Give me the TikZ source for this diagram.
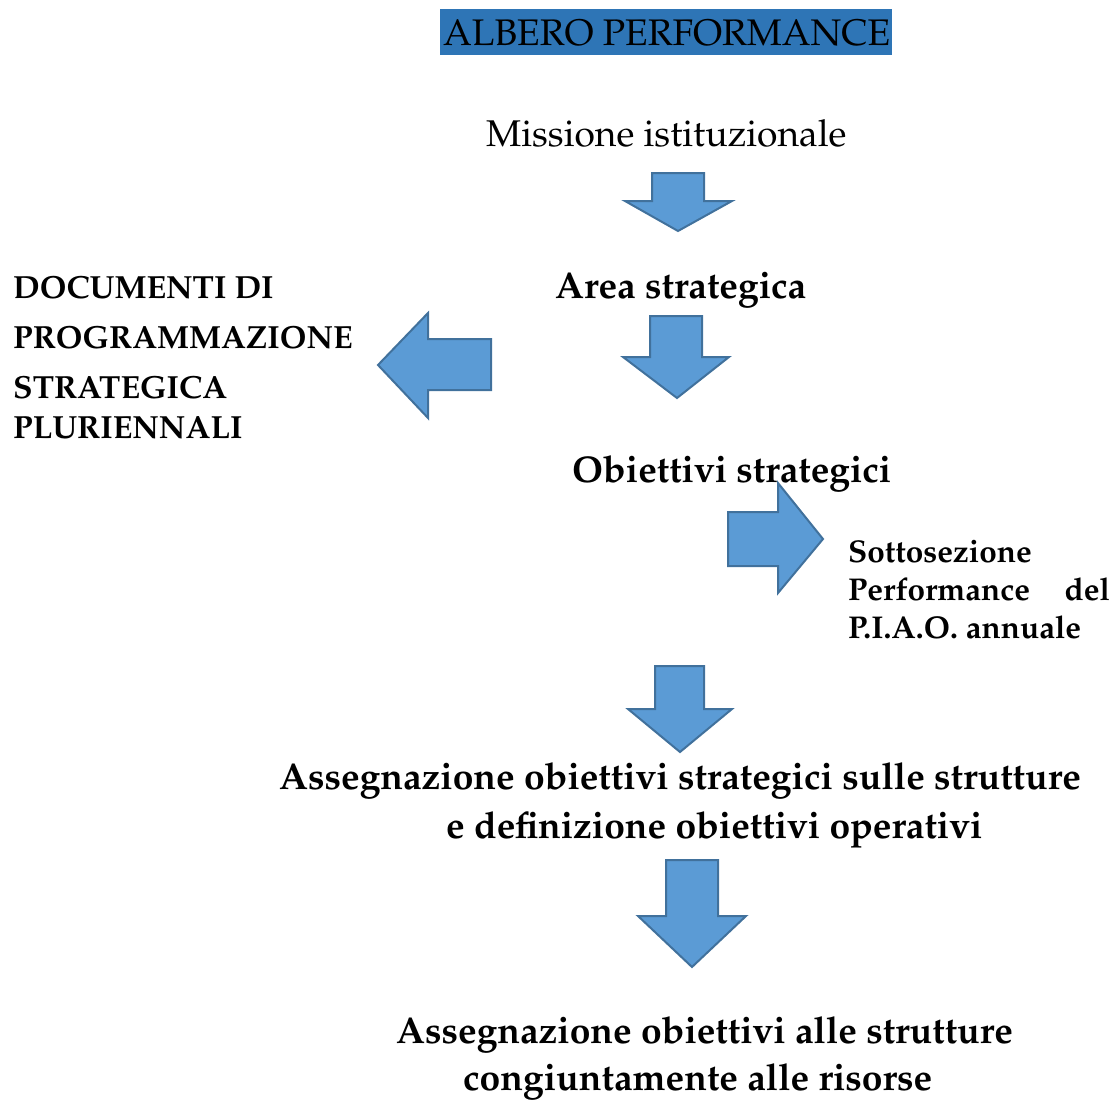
\documentclass[tikz,border=0pt]{standalone}
\usepackage[T1]{fontenc}
\usepackage{mathpazo}
\begin{document}
\definecolor{arrfill}{HTML}{5B9BD5}
\definecolor{arrdraw}{HTML}{41719C}
\definecolor{titlebg}{HTML}{2E75B6}
\tikzset{
  bigarrow/.style={fill=arrfill,draw=arrdraw,line width=2pt,line join=miter},
  lbl/.style={inner sep=0pt,anchor=base west,font=\bfseries\fontsize{37.2}{42}\selectfont},
  side/.style={inner sep=0pt,anchor=base west,font=\bfseries\fontsize{32}{36}\selectfont},
  sotto/.style={inner sep=0pt,anchor=base west,font=\bfseries\fontsize{31.5}{36}\selectfont},
}
\begin{tikzpicture}[x=1pt,y=-1pt]
\useasboundingbox (0,0) rectangle (1114,1100);
% title
\fill[titlebg] (440,9) rectangle (892,55);
\node[inner sep=0pt,anchor=base west,font=\fontsize{37}{42}\selectfont] (title) at (443,45) {ALBERO PERFORMANCE};
\node[inner sep=0pt,anchor=base west,font=\fontsize{37.2}{42}\selectfont] (mission) at (486,146) {Missione istituzionale};
% arrow 1
\draw[bigarrow] (652,173) -- (704,173) -- (704,201) -- (732,201) -- (678,231) -- (625,201) -- (652,201) -- cycle;
\node[lbl] (area) at (555,298) {Area strategica};
% arrow 2
\draw[bigarrow] (650,316) -- (702,316) -- (702,357) -- (729,357) -- (677,398) -- (623,357) -- (650,357) -- cycle;
% left arrow
\draw[bigarrow] (491,339) -- (491,390) -- (428,390) -- (428,418) -- (378,365) -- (428,313) -- (428,339) -- cycle;
\node[side] (doc1) at (13,298) {DOCUMENTI DI};
\node[side] (doc2) at (13,348) {PROGRAMMAZIONE};
\node[side] (doc3) at (13,398) {STRATEGICA};
\node[side] (doc4) at (13,438) {PLURIENNALI};
\node[lbl] (obiettivi) at (572,482) {Obiettivi strategici};
% right arrow
\draw[bigarrow] (728,512) -- (778,512) -- (778,483) -- (823,539) -- (778,593) -- (778,566) -- (728,566) -- cycle;
\node[sotto] (sotto1) at (848,562) {Sottosezione};
\node[sotto] (sotto2) at (848,600) {\makebox[262pt][s]{Performance\hfill del}};
\node[sotto] (sotto3) at (848,638) {P.I.A.O. annuale};
% arrow 3
\draw[bigarrow] (655,666) -- (704,666) -- (704,709) -- (732,709) -- (680,752) -- (628,709) -- (655,709) -- cycle;
\node[lbl] (asse1) at (279,789) {Assegnazione obiettivi strategici sulle strutture};
\node[lbl] (asse2) at (446,838) {e definizione obiettivi operativi};
% arrow 4
\draw[bigarrow] (666,860) -- (718,860) -- (718,916) -- (746,916) -- (692,967) -- (638,916) -- (666,916) -- cycle;
\node[lbl] (asse3) at (396,1043) {Assegnazione obiettivi alle strutture};
\node[lbl] (asse4) at (463,1090) {congiuntamente alle risorse};
\end{tikzpicture}
\end{document}
